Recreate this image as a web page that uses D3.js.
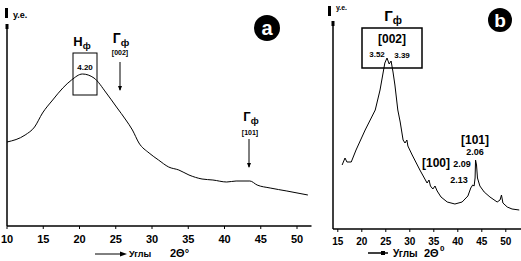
<!DOCTYPE html>
<html>
<head>
<meta charset="utf-8">
<script src="https://cdn.jsdelivr.net/npm/d3@7"></script>
<style>
  body { margin: 0; background: #fff; }
  svg { display: block; font-family: "Liberation Sans", Arial, sans-serif; font-weight: bold; }
</style>
</head>
<body>
<svg width="521" height="261"></svg>
<script>
// panel a: 2theta (deg) vs intensity (a.u.)
const thetaA = [10, 12.5, 13.8, 14.9, 16.3, 17.7, 18.9, 20.4, 22.0, 23.7, 25.1, 26.4, 27.3,
  28.2, 29.6, 30.9, 32.3, 33.7, 35.1, 36.9, 38.4, 40.3, 41.6, 43.5, 44.5, 46.3, 48.6, 51.5]
const intensityA = [84, 91, 99, 113, 126, 138, 146, 152, 148, 133, 119, 106, 96,
  83, 73, 66, 59, 56, 51, 47, 46, 44, 45, 45, 41, 38, 35, 31]

// panel b
const thetaB = [15.9, 16.5, 16.9, 17.8, 18.8, 20.7, 22.8, 23.8, 24.8, 25.25, 25.7, 26.1, 26.5,
  26.9, 27.5, 28.0, 28.6, 29.0, 29.4, 29.6, 30.5, 32.1, 33.6, 34.0, 34.3, 34.8, 35.25, 35.7,
  36.5, 37.8, 39.4, 40.9, 42.1, 42.7, 43.1, 43.4, 43.6, 43.7, 43.9, 44.1, 44.6, 45.5, 46.7,
  48.2, 48.8, 49.1, 49.4, 50.3, 51.3, 52.8]
const intensityB = [64, 71, 67, 67, 79, 99, 119, 139, 166, 171, 165, 168, 157,
  144, 119, 107, 89, 86, 89, 83, 74, 59, 46, 49, 43, 40, 43, 38,
  32, 27, 25, 27, 33, 41, 44, 43, 51, 69, 64, 51, 43, 37, 32,
  27, 29, 34, 26, 22, 20, 19]

const ticksA = [10, 15, 20, 25, 30, 35, 40, 45, 50]
const ticksB = [15, 20, 25, 30, 35, 40, 45, 50]

const svg = d3.select("svg")

function panel(cfg) {
  const x = d3.scaleLinear().domain(cfg.xDomain).range(cfg.xRange)
  const y = d3.scaleLinear().domain(cfg.yDomain).range(cfg.yRange)
  const g = svg.append("g")

  // axes
  g.append("line").attr("x1", cfg.xRange[0]).attr("x2", cfg.xRange[1])
    .attr("y1", cfg.yRange[0]).attr("y2", cfg.yRange[0])
    .attr("stroke", "#000").attr("stroke-width", 1.5)
  g.append("line").attr("x1", cfg.xRange[0]).attr("x2", cfg.xRange[0])
    .attr("y1", cfg.yRange[0]).attr("y2", cfg.yRange[1])
    .attr("stroke", "#000").attr("stroke-width", 1.5)
  g.append("line").attr("x1", cfg.xRange[0]).attr("x2", cfg.xRange[0])
    .attr("y1", cfg.yRange[1] - 1).attr("y2", cfg.yRange[1] + 4)
    .attr("stroke", "#000").attr("stroke-width", 3)

  g.selectAll(".tk").data(cfg.ticks).join("line")
    .attr("x1", d => x(d)).attr("x2", d => x(d))
    .attr("y1", cfg.yRange[0]).attr("y2", cfg.yRange[0] + 3)
    .attr("stroke", "#000")
  g.selectAll(".tl").data(cfg.ticks).join("text")
    .attr("x", d => x(d)).attr("y", cfg.tickY)
    .attr("text-anchor", "middle").attr("font-size", cfg.tickSize)
    .text(d => d)

  g.append("path")
    .datum(d3.zip(cfg.theta, cfg.intensity))
    .attr("fill", "none").attr("stroke", "#000").attr("stroke-width", 1)
    .attr("d", d3.line().x(d => x(d[0])).y(d => y(d[1])).curve(cfg.curve))

  return { x, y, g }
}

const a = panel({
  xDomain: [10, 52], xRange: [7, 311.5],
  yDomain: [0, 201], yRange: [226, 25],
  ticks: ticksA, tickY: 243, tickSize: 11,
  theta: thetaA, intensity: intensityA, curve: d3.curveMonotoneX
})
const b = panel({
  xDomain: [14, 53.5], xRange: [333, 522.6],
  yDomain: [0, 207], yRange: [229, 22],
  ticks: ticksB, tickY: 245, tickSize: 10,
  theta: thetaB, intensity: intensityB, curve: d3.curveLinear
})

function txt(x, y, s, size, anchor) {
  return svg.append("text").attr("x", x).attr("y", y)
    .attr("font-size", size).attr("text-anchor", anchor || "middle").text(s)
}
function sub(x, y, main, subs, size) {
  const t = svg.append("text").attr("x", x).attr("y", y)
    .attr("font-size", size).attr("text-anchor", "middle")
  t.append("tspan").text(main)
  t.append("tspan").attr("font-size", size * 0.7).attr("dy", 3).text(subs)
  return t
}
function arrow(x, y1, y2) {
  svg.append("line").attr("x1", x).attr("x2", x).attr("y1", y1).attr("y2", y2)
    .attr("stroke", "#000")
  svg.append("path").attr("d", `M${x - 2},${y2 - 4}L${x + 2},${y2 - 4}L${x},${y2 + 1}Z`)
}

// y labels
svg.append("rect").attr("x", 5).attr("y", 8).attr("width", 3).attr("height", 10)
txt(13, 18, "у.е.", 9, "start")
svg.append("rect").attr("x", 328).attr("y", 6).attr("width", 3).attr("height", 10)
txt(336, 10, "у.е.", 7, "start")

// x labels
svg.append("line").attr("x1", 95).attr("x2", 122).attr("y1", 254).attr("y2", 254).attr("stroke", "#000")
svg.append("path").attr("d", "M120,251.5L127,254L120,256.5Z")
txt(129, 257, "Углы", 9, "start")
txt(170, 257, "2Θ°", 11, "start")

svg.append("line").attr("x1", 368).attr("x2", 388).attr("y1", 253).attr("y2", 253).attr("stroke", "#000").attr("stroke-width", 1.5)
svg.append("rect").attr("x", 381).attr("y", 251).attr("width", 4).attr("height", 4)
txt(393, 257, "Углы", 10, "start")
txt(424, 257, "2Θ", 11, "start")
txt(440, 251, "0", 8, "start")

// panel a annotations
svg.append("rect").attr("x", 73).attr("y", 53).attr("width", 24).attr("height", 42)
  .attr("fill", "none").attr("stroke", "#000")
txt(85, 70, "4.20", 8)
sub(82, 46, "H", "ф", 13)
sub(121, 43, "Г", "ф", 14)
txt(120, 55, "[002]", 7)
arrow(120, 62, 90)
sub(251, 121, "Г", "ф", 13)
txt(250, 135, "[101]", 7)
arrow(249, 139, 167)

svg.append("circle").attr("cx", 267).attr("cy", 28).attr("r", 13)
txt(267, 35, "a", 20).attr("fill", "#fff")

// panel b annotations
svg.append("rect").attr("x", 362).attr("y", 28).attr("width", 60).attr("height", 40)
  .attr("fill", "none").attr("stroke", "#000").attr("stroke-width", 1.5)
sub(393, 21, "Г", "ф", 15)
txt(392, 43, "[002]", 12)
txt(377, 57, "3.52", 8)
txt(402, 58, "3.39", 8)
txt(475, 144, "[101]", 12)
txt(475, 155, "2.06", 9)
txt(436, 167, "[100]", 12)
txt(462, 167, "2.09", 9)
txt(459, 183, "2.13", 9)

svg.append("circle").attr("cx", 500).attr("cy", 20).attr("r", 12)
txt(500, 27, "b", 19).attr("fill", "#fff")
</script>
</body>
</html>
